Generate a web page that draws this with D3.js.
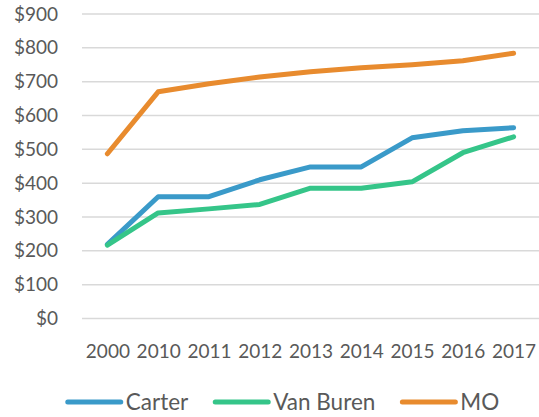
<!DOCTYPE html>
<html>
<head>
<meta charset="utf-8">
<script src="https://cdn.jsdelivr.net/npm/d3@7"></script>
<style>
  body { margin: 0; background: #fff; }
  text { font-family: Lato, "Open Sans", sans-serif; fill: #595959; }
</style>
</head>
<body>
<div id="graph"></div>
<script>
const w = 539;
const h = 417;

// data
const years = ["2000", "2010", "2011", "2012", "2013", "2014", "2015", "2016", "2017"];
const carter = [219, 360, 360, 410, 448, 448, 534, 555, 564];
const vanBuren = [217, 312, 324, 337, 385, 385, 404, 490, 537];
const mo = [487, 670, 694, 714, 729, 741, 750, 762, 784];
const yTicks = [0, 100, 200, 300, 400, 500, 600, 700, 800, 900];

const seriesNames = ["Carter", "Van Buren", "MO"];
const seriesValues = [carter, vanBuren, mo];
const colors = ["#3a9ac9", "#35c589", "#e88b2e"];

const svg = d3.select('#graph')
              .append('svg')
              .attr('width', w)
              .attr('height', h);

const xScale = d3.scalePoint()
                .domain(years)
                .range([82, 539])
                .padding(0.5);

const yScale = d3.scaleLinear()
                .domain([0, 900])
                .range([318.5, 14]);

// gridlines
svg.append('g')
   .selectAll('line')
   .data(yTicks)
   .enter()
   .append('line')
   .attr('x1', 82)
   .attr('x2', 539)
   .attr('y1', d => yScale(d))
   .attr('y2', d => yScale(d))
   .style('stroke', '#d9d9d9')
   .style('stroke-width', 1.5);

// y labels
const yAxis = d3.axisLeft(yScale)
                .tickValues(yTicks)
                .tickFormat(d => '$' + d)
                .tickSize(0)
                .tickPadding(0);
const yg = svg.append('g')
   .attr('transform', 'translate(58,0)')
   .call(yAxis);
yg.select('.domain').remove();
yg.selectAll('text').style('font-size', '19px').attr('fill', '#595959');

// x labels
const xAxis = d3.axisBottom(xScale).tickSize(0).tickPadding(0);
const xg = svg.append('g')
   .attr('transform', 'translate(0,344)')
   .call(xAxis);
xg.select('.domain').remove();
xg.selectAll('text').style('font-size', '19px').attr('fill', '#595959');

// lines
const line = d3.line()
               .x((d, i) => xScale(years[i]))
               .y(d => yScale(d));

svg.selectAll('.series')
   .data(seriesValues)
   .enter()
   .append('path')
   .attr('class', 'series')
   .attr('d', line)
   .style('fill', 'none')
   .style('stroke', (d, i) => colors[i])
   .style('stroke-width', 5)
   .style('stroke-linecap', 'round')
   .style('stroke-linejoin', 'round');

// legend
const legendY = 402;
const lineLen = 53;
const legend = svg.append('g').attr('class', 'legend');
const items = legend.selectAll('g')
   .data(seriesNames)
   .enter()
   .append('g');

items.append('line')
   .attr('x1', 0)
   .attr('x2', lineLen)
   .attr('y1', 0)
   .attr('y2', 0)
   .style('stroke', (d, i) => colors[i])
   .style('stroke-width', 5)
   .style('stroke-linecap', 'round');

items.append('text')
   .attr('x', lineLen + 5)
   .attr('dy', '0.36em')
   .style('font-size', '22.5px')
   .text(d => d);

let xPos = 0;
items.each(function() {
  const g = d3.select(this);
  g.attr('transform', 'translate(' + xPos + ',' + legendY + ')');
  xPos += lineLen + 5 + g.select('text').node().getComputedTextLength() + 27;
});
const total = xPos - 27;
legend.attr('transform', 'translate(' + (283.5 - total / 2) + ',0)');
</script>
</body>
</html>
